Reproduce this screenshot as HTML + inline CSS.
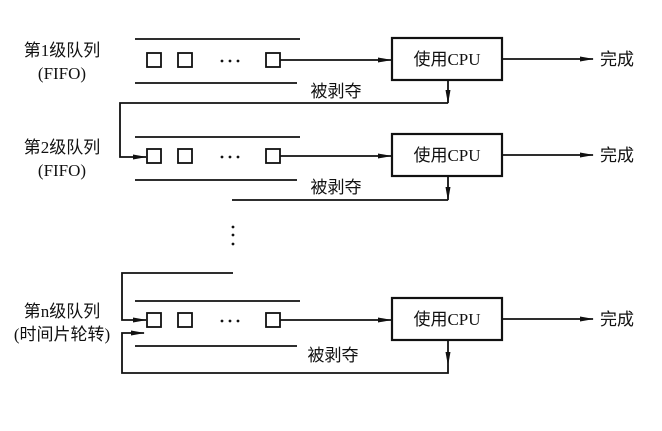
<!DOCTYPE html>
<html><head><meta charset="utf-8"><style>body{margin:0;background:#fff}</style></head><body>
<svg width="662" height="426" xmlns="http://www.w3.org/2000/svg" font-family="'Liberation Serif','Noto Sans CJK SC',serif" font-size="17" fill="#111">
<defs><marker id="a" markerWidth="14" markerHeight="8" refX="13" refY="4" orient="auto" markerUnits="userSpaceOnUse"><path d="M0,1.5 L14,4 L0,6.5 Z" fill="#111"/></marker></defs>
<g stroke="#111" stroke-width="1.8" fill="none">
<line x1="135" y1="39" x2="300" y2="39"/><line x1="135" y1="83" x2="297" y2="83"/>
<rect x="147" y="53" width="14" height="14"/><rect x="178" y="53" width="14" height="14"/><rect x="266" y="53" width="14" height="14"/>
<line x1="280" y1="60" x2="391" y2="60" marker-end="url(#a)"/>
<rect x="392" y="38" width="110" height="42" stroke-width="2.2"/>
<line x1="502" y1="59" x2="593" y2="59" marker-end="url(#a)"/>
<line x1="448" y1="80" x2="448" y2="103" marker-end="url(#a)"/>
<polyline points="448,103 120,103 120,157 146,157" marker-end="url(#a)"/>
<line x1="135" y1="137" x2="300" y2="137"/><line x1="135" y1="180" x2="297" y2="180"/>
<rect x="147" y="149" width="14" height="14"/><rect x="178" y="149" width="14" height="14"/><rect x="266" y="149" width="14" height="14"/>
<line x1="280" y1="156" x2="391" y2="156" marker-end="url(#a)"/>
<rect x="392" y="134" width="110" height="42" stroke-width="2.2"/>
<line x1="502" y1="155" x2="593" y2="155" marker-end="url(#a)"/>
<line x1="448" y1="176" x2="448" y2="200" marker-end="url(#a)"/>
<line x1="448" y1="200" x2="232" y2="200"/>
<polyline points="233,273 122,273 122,320 146,320" marker-end="url(#a)"/>
<line x1="135" y1="301" x2="300" y2="301"/><line x1="135" y1="346" x2="297" y2="346"/>
<rect x="147" y="313" width="14" height="14"/><rect x="178" y="313" width="14" height="14"/><rect x="266" y="313" width="14" height="14"/>
<line x1="280" y1="320" x2="391" y2="320" marker-end="url(#a)"/>
<rect x="392" y="298" width="110" height="42" stroke-width="2.2"/>
<line x1="502" y1="319" x2="593" y2="319" marker-end="url(#a)"/>
<line x1="448" y1="340" x2="448" y2="365" marker-end="url(#a)"/>
<polyline points="448,365 448,373 122,373 122,333 144,333" marker-end="url(#a)"/>
</g>
<g fill="#111">
<circle cx="222" cy="61" r="1.4"/><circle cx="230" cy="61" r="1.4"/><circle cx="238" cy="61" r="1.4"/>
<circle cx="222" cy="157" r="1.4"/><circle cx="230" cy="157" r="1.4"/><circle cx="238" cy="157" r="1.4"/>
<circle cx="222" cy="321" r="1.4"/><circle cx="230" cy="321" r="1.4"/><circle cx="238" cy="321" r="1.4"/>
<circle cx="233" cy="227" r="1.4"/><circle cx="233" cy="235" r="1.4"/><circle cx="233" cy="244" r="1.4"/>
</g>
<g text-anchor="middle">
<text x="62" y="56">第1级队列</text><text x="62" y="79">(FIFO)</text>
<text x="62" y="153">第2级队列</text><text x="62" y="176">(FIFO)</text>
<text x="62" y="317">第n级队列</text><text x="62" y="340">(时间片轮转)</text>
<text x="447" y="65">使用CPU</text><text x="447" y="161">使用CPU</text><text x="447" y="325">使用CPU</text>
<text x="617" y="65">完成</text><text x="617" y="161">完成</text><text x="617" y="325">完成</text>
<text x="336" y="97">被剥夺</text><text x="336" y="193">被剥夺</text><text x="333" y="361">被剥夺</text>
</g>
</svg>
</body></html>
